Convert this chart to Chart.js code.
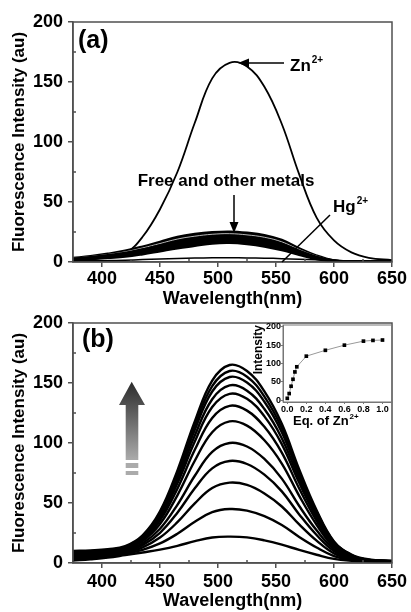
<!DOCTYPE html>
<html>
<head>
<meta charset="utf-8">
<script src="https://cdn.jsdelivr.net/npm/chart.js@4.4.1/dist/chart.umd.min.js"></script>
<style>
  html, body { margin: 0; padding: 0; background: #fff; }
  #wrap { position: relative; width: 411px; height: 612px; overflow: hidden; }
  canvas { position: absolute; left: 0; }
</style>
</head>
<body>
<div id="wrap">
  <canvas id="chartA" width="411" height="312" style="top:0"></canvas>
  <canvas id="chartB" width="411" height="312" style="top:300px"></canvas>
  <canvas id="inset" width="181" height="135" style="left:230px;top:300px"></canvas>
</div>
<script>
// shared x values (nm) for every spectrum
const wavelength = [375, 390, 405, 420, 435, 450, 465, 480, 495, 510, 525, 540, 555, 570, 585, 600, 615, 630, 650];
const wavelengthTicks = [400, 450, 500, 550, 600, 650];
const intensityTicks = [0, 50, 100, 150, 200];

// panel (a)
const znCurve = [2, 2.5, 4, 7, 21, 44, 75, 116, 153, 166, 163, 146, 115, 73, 37, 18, 8, 3.5, 1.5];
const hgCurve = [1, 1, 1.2, 1.5, 2, 2.5, 3, 3.3, 3.5, 3.5, 3.4, 3.2, 2.8, 2.3, 1.8, 1.3, 1, 0.8, 0.6];
const freeCurve1 = [1.5, 2.5, 3.5, 4.5, 6.5, 9, 11.5, 13.5, 15.5, 16, 15, 13, 10, 6, 2.5, 0.7, 0.3, 0.2, 0.1];
const freeCurve2 = [1.9, 3, 4.2, 5.5, 7.8, 10.6, 13.4, 15.5, 17.4, 17.9, 16.9, 14.9, 11.7, 7.1, 3.1, 0.9, 0.3, 0.2, 0.1];
const freeCurve3 = [2.3, 3.5, 4.9, 6.5, 9.1, 12.2, 15.3, 17.5, 19.3, 19.8, 18.8, 16.8, 13.4, 8.2, 3.7, 1, 0.4, 0.2, 0.1];
const freeCurve4 = [2.7, 4, 5.6, 7.5, 10.4, 13.8, 17.2, 19.5, 21.2, 21.7, 20.7, 18.7, 15.1, 9.3, 4.3, 1.2, 0.4, 0.3, 0.2];
const freeCurve5 = [3.1, 4.5, 6.3, 8.5, 11.7, 15.4, 19.1, 21.5, 23.1, 23.6, 22.6, 20.6, 16.8, 10.4, 4.9, 1.3, 0.5, 0.3, 0.2];
const freeCurve6 = [3.5, 5, 7, 9.5, 13, 17, 21, 23.5, 25, 25.5, 24.5, 22.5, 18.5, 11.5, 5.5, 1.5, 0.5, 0.3, 0.2];

// panel (b) - Zn2+ titration
const titr1 = [2, 3.1, 4.5, 6.6, 8.8, 11.2, 14.3, 18.2, 21.3, 22, 21.4, 18.9, 15.3, 10.9, 6.9, 3.4, 1.9, 1.4, 1.1];
const titr2 = [3, 3.7, 5.2, 7.6, 11, 16.3, 24.4, 34.3, 42.4, 45, 43.7, 39, 31.6, 21.7, 12.9, 5.8, 2.7, 1.6, 1.1];
const titr3 = [3.5, 4.5, 5.9, 8.5, 13.1, 21.2, 34, 49.7, 62.5, 67, 65.1, 58, 47.1, 32.1, 18.6, 8, 3.5, 1.8, 1.2];
const titr4 = [4.5, 5.2, 6.7, 9.3, 14.9, 25.2, 41.9, 62.2, 78.9, 85, 82.5, 73.6, 59.7, 40.5, 23.3, 9.9, 4.1, 2, 1.3];
const titr5 = [5, 5.8, 7.3, 10.1, 16.4, 28.5, 48.5, 72.7, 92.6, 100, 97.1, 86.7, 70.3, 47.5, 27.2, 11.4, 4.6, 2.1, 1.3];
const titr6 = [6, 6.5, 8, 10.9, 18.2, 32.5, 56.4, 85.2, 109, 118, 114.5, 102.3, 82.9, 56, 31.9, 13.2, 5.2, 2.3, 1.4];
const titr7 = [6.5, 7.2, 8.6, 11.5, 19.4, 35.4, 62, 94.3, 120.9, 131, 127, 113.5, 92, 62.1, 35.2, 14.5, 5.6, 2.4, 1.4];
const titr8 = [7.5, 7.9, 9.2, 12.1, 20.4, 37.6, 66.4, 101.2, 130, 141, 136.8, 122.2, 99.1, 66.8, 37.8, 15.5, 5.9, 2.5, 1.4];
const titr9 = [8, 8.5, 9.7, 12.6, 21.1, 39.2, 69.5, 106.2, 136.5, 148, 143.6, 128.3, 104, 70.1, 39.7, 16.3, 6.2, 2.5, 1.4];
const titr10 = [9, 9.2, 10.4, 13.1, 21.9, 40.7, 72.6, 111, 142.9, 155, 150.4, 134.4, 109, 73.4, 41.5, 17, 6.4, 2.6, 1.5];
const titr11 = [9.5, 9.9, 10.9, 13.5, 22.5, 41.9, 74.8, 114.5, 147.4, 160, 155.2, 138.7, 112.5, 75.7, 42.8, 17.5, 6.6, 2.6, 1.5];
const titr12 = [10, 10.5, 11.5, 14, 23, 43, 77, 118, 152, 165, 160, 143, 116, 78, 44, 18, 7, 3, 2];

// inset
const eqZn = [0, 0.02, 0.04, 0.06, 0.08, 0.1, 0.2, 0.4, 0.6, 0.8, 0.9, 1.0];
const eqIntensity = [5, 18, 38, 57, 77, 91, 120, 136, 150, 161, 163, 164];
const eqTicks = [0, 0.2, 0.4, 0.6, 0.8, 1.0];
const insetTicks = [0, 50, 100, 150, 200];

const family = '"Liberation Sans", Arial, sans-serif';
const axisColor = '#505050';

function series(ys) {
    return wavelength.map((w, i) => ({ x: w, y: ys[i] }));
}

function curve(ys, width, color) {
    return {
        data: series(ys),
        borderColor: color || '#000',
        borderWidth: width,
        pointRadius: 0,
        tension: 0.4,
        fill: false
    };
}

// frame around the plot + small inward minor ticks
const boxPlugin = {
    id: 'box',
    afterDatasetsDraw(chart, args, opts) {
        const { ctx, chartArea: a, scales } = chart;
        ctx.save();
        ctx.strokeStyle = opts.color;
        ctx.lineWidth = opts.width;
        ctx.strokeRect(a.left, a.top, a.right - a.left, a.bottom - a.top);
        ctx.beginPath();
        (opts.minorX || []).forEach(v => {
            const x = scales.x.getPixelForValue(v);
            ctx.moveTo(x, a.bottom);
            ctx.lineTo(x, a.bottom - opts.minorLen);
        });
        (opts.minorY || []).forEach(v => {
            const y = scales.y.getPixelForValue(v);
            ctx.moveTo(a.left, y);
            ctx.lineTo(a.left + opts.minorLen, y);
        });
        ctx.stroke();
        ctx.restore();
    }
};

function supText(ctx, base, sup, x, y, size, supSize) {
    ctx.font = 'bold ' + size + 'px ' + family;
    ctx.textAlign = 'left';
    ctx.textBaseline = 'alphabetic';
    ctx.fillText(base, x, y);
    const w = ctx.measureText(base).width;
    ctx.font = 'bold ' + supSize + 'px ' + family;
    ctx.fillText(sup, x + w + 1, y - size * 0.5);
}

function mainOptions(padTop, xHeight, xTitlePad, xTickPad) {
    const grid = { drawOnChartArea: false, tickLength: 5, color: axisColor, lineWidth: 1.5 };
    const border = { color: axisColor, width: 1.5 };
    const tickFont = { family: family, size: 18, weight: 'bold' };
    return {
        responsive: false,
        animation: false,
        devicePixelRatio: 1,
        layout: { padding: { left: 0, right: 19, top: padTop, bottom: 0 } },
        plugins: {
            legend: { display: false },
            tooltip: { enabled: false },
            box: { color: axisColor, width: 1.5, minorLen: 3, minorX: [425, 475, 525, 575, 625], minorY: [25, 75, 125, 175] }
        },
        scales: {
            x: {
                type: 'linear',
                min: 375,
                max: 650,
                afterBuildTicks: s => { s.ticks = wavelengthTicks.map(v => ({ value: v })); },
                afterFit: s => { s.height = xHeight; },
                grid: grid,
                border: border,
                ticks: { color: '#000', padding: xTickPad, maxRotation: 0, autoSkip: false, font: tickFont },
                title: {
                    display: true,
                    text: 'Wavelength(nm)',
                    color: '#000',
                    padding: { top: 0, bottom: xTitlePad },
                    font: { family: family, size: 18, weight: 'bold' }
                }
            },
            y: {
                min: 0,
                max: 200,
                afterBuildTicks: s => { s.ticks = intensityTicks.map(v => ({ value: v })); },
                afterFit: s => { s.width = 73; },
                grid: grid,
                border: border,
                ticks: { color: '#000', padding: 5, font: tickFont },
                title: {
                    display: true,
                    text: 'Fluorescence Intensity (au)',
                    color: '#000',
                    padding: { top: 9, bottom: 0 },
                    font: { family: family, size: 17, weight: 'bold' }
                }
            }
        }
    };
}

// band of "free and other metals" spectra, filled solid between lowest and highest
const bandTop = curve(freeCurve6, 2);
bandTop.fill = 1;
bandTop.backgroundColor = '#000';

// Panel (a)
new Chart(document.getElementById('chartA'), {
    type: 'line',
    data: {
        datasets: [
            curve(hgCurve, 1.5),
            curve(freeCurve1, 2.5),
            curve(freeCurve2, 2.5),
            curve(freeCurve3, 2.5),
            curve(freeCurve4, 2.5),
            curve(freeCurve5, 0.8, '#e6e6e6'),
            bandTop,
            curve(znCurve, 1.8)
        ]
    },
    options: mainOptions(22, 50, 2, 1),
    plugins: [boxPlugin, {
        id: 'notesA',
        afterDraw(chart) {
            const ctx = chart.ctx;
            ctx.save();
            ctx.fillStyle = '#000';
            ctx.strokeStyle = '#000';
            ctx.lineWidth = 1.5;
            ctx.font = 'bold 25px ' + family;
            ctx.textAlign = 'left';
            ctx.textBaseline = 'middle';
            ctx.fillText('(a)', 78, 41);

            // Zn2+ arrow
            ctx.beginPath();
            ctx.moveTo(284, 63);
            ctx.lineTo(246, 63);
            ctx.stroke();
            ctx.beginPath();
            ctx.moveTo(238, 63);
            ctx.lineTo(249, 58.5);
            ctx.lineTo(249, 67.5);
            ctx.closePath();
            ctx.fill();
            supText(ctx, 'Zn', '2+', 290, 71, 17, 10);

            // free and other metals
            ctx.font = 'bold 17px ' + family;
            ctx.textAlign = 'center';
            ctx.textBaseline = 'alphabetic';
            ctx.fillText('Free and other metals', 226, 186);
            ctx.beginPath();
            ctx.moveTo(234, 195);
            ctx.lineTo(234, 224);
            ctx.stroke();
            ctx.beginPath();
            ctx.moveTo(234, 233);
            ctx.lineTo(229.5, 222);
            ctx.lineTo(238.5, 222);
            ctx.closePath();
            ctx.fill();

            // Hg2+
            supText(ctx, 'Hg', '2+', 333, 212, 17, 10);
            ctx.beginPath();
            ctx.moveTo(330, 215);
            ctx.lineTo(282, 262);
            ctx.stroke();
            ctx.restore();
        }
    }]
});

// Panel (b)
new Chart(document.getElementById('chartB'), {
    type: 'line',
    data: {
        datasets: [titr1, titr2, titr3, titr4, titr5, titr6, titr7, titr8, titr9, titr10, titr11, titr12]
            .map(t => curve(t, 2.4))
    },
    options: mainOptions(23, 49, 0, 3),
    plugins: [boxPlugin, {
        id: 'notesB',
        afterDraw(chart) {
            const ctx = chart.ctx;
            ctx.save();
            ctx.fillStyle = '#000';
            ctx.font = 'bold 25px ' + family;
            ctx.textAlign = 'left';
            ctx.textBaseline = 'middle';
            ctx.fillText('(b)', 82, 40);

            // grey gradient arrow
            const g = ctx.createLinearGradient(0, 81.7, 0, 159);
            g.addColorStop(0, '#2b2b2b');
            g.addColorStop(1, '#a9a9a9');
            ctx.fillStyle = g;
            ctx.beginPath();
            ctx.moveTo(131.7, 81.7);
            ctx.lineTo(145, 105);
            ctx.lineTo(138.3, 105);
            ctx.lineTo(138.3, 160);
            ctx.lineTo(125.7, 160);
            ctx.lineTo(125.7, 105);
            ctx.lineTo(119, 105);
            ctx.closePath();
            ctx.fill();
            ctx.fillStyle = '#ababab';
            ctx.fillRect(125.7, 163, 12.6, 5);
            ctx.fillRect(125.7, 171, 12.6, 4);
            ctx.restore();
        }
    }]
});

// Inset: intensity vs equivalents of Zn2+
new Chart(document.getElementById('inset'), {
    type: 'line',
    data: {
        datasets: [{
            data: eqZn.map((x, i) => ({ x: x, y: eqIntensity[i] })),
            borderColor: '#999',
            borderWidth: 1,
            pointStyle: 'rect',
            pointRadius: 2.6,
            pointBackgroundColor: '#000',
            pointBorderColor: '#000',
            pointBorderWidth: 0,
            tension: 0
        }]
    },
    options: {
        responsive: false,
        animation: false,
        devicePixelRatio: 1,
        layout: { padding: { left: 0, right: 19, top: 25, bottom: 0 } },
        plugins: {
            legend: { display: false },
            tooltip: { enabled: false },
            box: { color: '#777', width: 1, minorLen: 0 }
        },
        scales: {
            x: {
                type: 'linear',
                min: -0.045,
                max: 1.1,
                afterBuildTicks: s => { s.ticks = eqTicks.map(v => ({ value: v })); },
                afterFit: s => { s.height = 33; },
                grid: { drawOnChartArea: false, tickLength: 2, color: '#777', lineWidth: 1 },
                border: { color: '#777', width: 1 },
                ticks: {
                    color: '#000', padding: 0, maxRotation: 0, autoSkip: false,
                    font: { family: family, size: 9, weight: 'bold' },
                    callback: v => Number(v).toFixed(1)
                }
            },
            y: {
                min: -5,
                max: 205,
                afterBuildTicks: s => { s.ticks = insetTicks.map(v => ({ value: v })); },
                afterFit: s => { s.width = 53; },
                grid: { drawOnChartArea: false, tickLength: 2, color: '#777', lineWidth: 1 },
                border: { color: '#777', width: 1 },
                ticks: { color: '#000', padding: 0, font: { family: family, size: 9, weight: 'bold' } },
                title: {
                    display: true,
                    text: 'Intensity',
                    align: 'end',
                    color: '#000',
                    padding: { top: 21, bottom: 0 },
                    font: { family: family, size: 12, weight: 'bold' }
                }
            }
        }
    },
    plugins: [boxPlugin, {
        id: 'insetTitle',
        afterDraw(chart) {
            const ctx = chart.ctx;
            ctx.save();
            ctx.fillStyle = '#000';
            supText(ctx, 'Eq. of Zn', '2+', 63, 125, 13, 8);
            ctx.restore();
        }
    }]
});
</script>
</body>
</html>
